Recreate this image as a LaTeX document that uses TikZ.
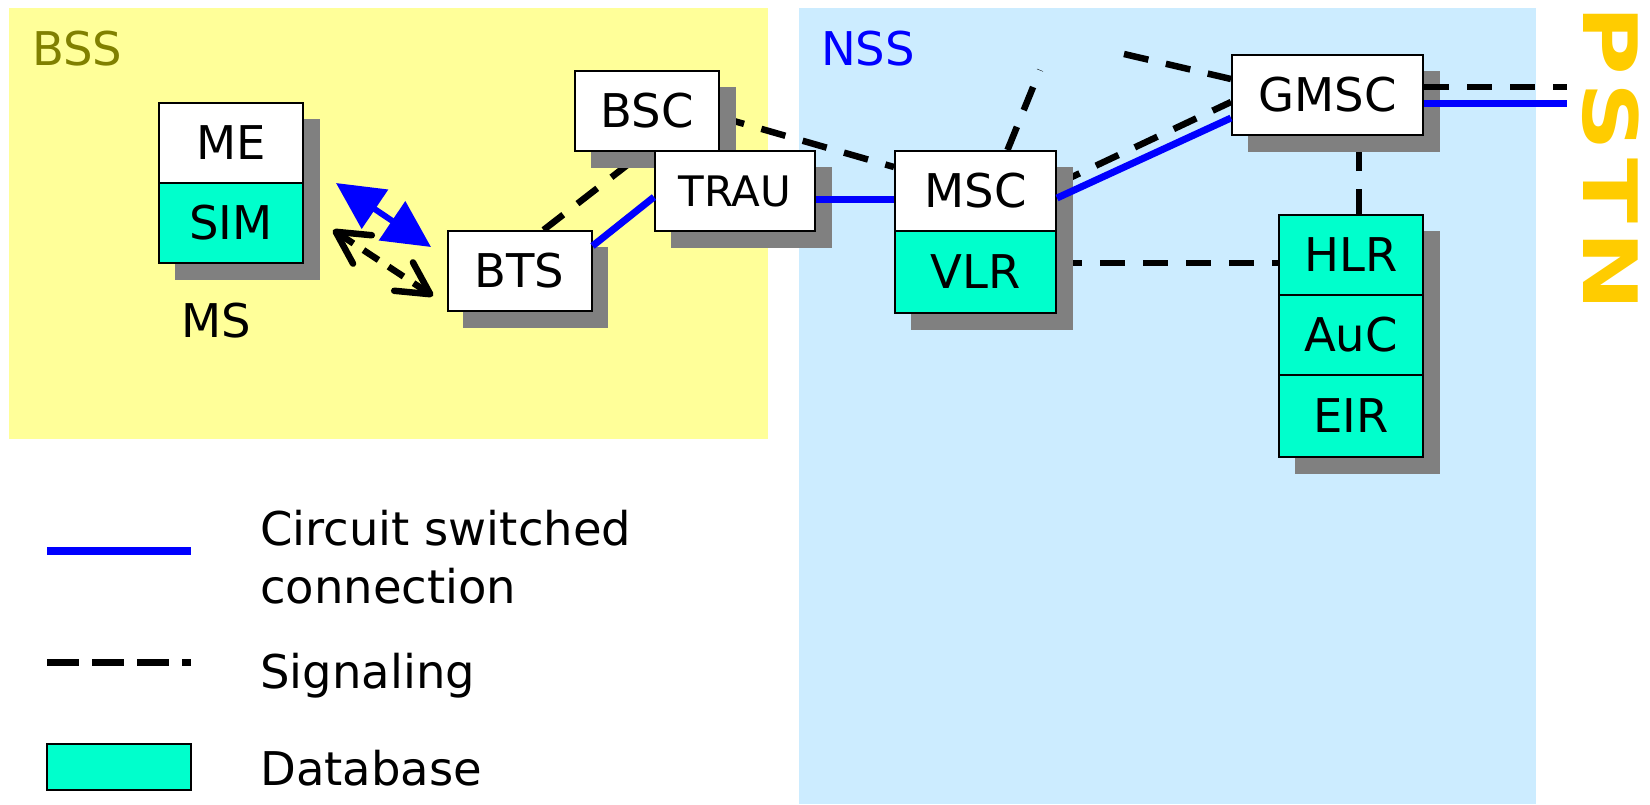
\documentclass[tikz,border=0pt]{standalone}
\usepackage{fontspec}
\setmainfont{DejaVu Sans}
\usetikzlibrary{arrows.meta,shadows}
\definecolor{bssyellow}{HTML}{FFFF99}
\definecolor{nssblue}{HTML}{CCECFF}
\definecolor{dbgreen}{HTML}{00FFCC}
\definecolor{bsslabel}{HTML}{808000}
\definecolor{pstngold}{HTML}{FFCC00}
\definecolor{shadowgray}{HTML}{808080}
\pgfdeclarelayer{back}
\pgfdeclarelayer{links}
\pgfsetlayers{back,links,main}
\begin{document}
\begin{tikzpicture}[x=1pt,y=-1pt,
  big/.style={font=\fontsize{46.5}{58}\selectfont},
  unit/.style={draw=black, line width=2pt, fill=white, minimum width=144pt,
    minimum height=80pt, inner sep=0pt, big,
    drop shadow={shadow xshift=16pt, shadow yshift=-16pt, fill=shadowgray,
      draw=shadowgray, line width=1pt, opacity=1}},
  db/.style={unit, fill=dbgreen},
  label/.style={big, anchor=base west, inner sep=0pt},
  circuit/.style={draw=blue, line width=7pt},
  signal/.style={draw=black, line width=6.5pt, dash pattern=on 25pt off 18pt},
]
\useasboundingbox (0,0) rectangle (1650,804);

% subsystem areas
\begin{pgfonlayer}{back}
  \fill[bssyellow] (9,8) rectangle (768,439);
  \fill[nssblue] (799,8) rectangle (1536,804);
\end{pgfonlayer}
\node[label, text=bsslabel] (BSS) at (32,65) {BSS};
\node[label, text=blue] (NSS) at (821,65) {NSS};

% mobile station
\node[unit] (ME) at (231,143) {ME};
\node[db] (SIM) at (231,223) {SIM};
\node[label] (MS) at (181,337) {MS};

% base station subsystem
\node[unit] (BSC) at (647,111) {BSC};
\node[unit, minimum width=160pt, font=\fontsize{42}{50}\selectfont] (TRAU) at (735,191) {TRAU};
\node[unit] (BTS) at (519.5,271) {BTS};

% network switching subsystem
\node[unit, minimum width=161pt] (MSC) at (975.5,191) {MSC};
\node[db, minimum width=161pt, minimum height=82pt] (VLR) at (975.5,272) {VLR};
\node[unit, minimum width=191pt] (GMSC) at (1327.5,95) {GMSC};
\node[db] (HLR) at (1351,255) {HLR};
\node[db] (AuC) at (1351,335) {AuC};
\node[db, minimum height=82pt] (EIR) at (1351,416) {EIR};

% public network
\node[rotate=-90, anchor=base west, inner sep=0pt, text=pstngold,
  font=\fontsize{75}{80}\selectfont\bfseries] (PSTN) at (1583,5)
  {\scalebox{1.27}[1]{P\kern6pt S\kern6pt T\kern6pt N}};

% free ends
\coordinate (up1) at (1040,70);
\coordinate (up2) at (1124,54);
\coordinate (pstnS) at (1567,87);
\coordinate (pstnC) at (1567,103);
\coordinate (radioA) at (336,183);
\coordinate (radioB) at (431,247);
\coordinate (sigA) at (333,230);
\coordinate (sigB) at (433,296);

% signaling links, beneath the boxes
\begin{pgfonlayer}{links}
  \draw[signal] ([xshift=24pt]BTS.north) -- ([xshift=-3pt]BSC.south);
  \draw[signal] ([yshift=-6pt]BSC.east) -- ([yshift=24pt]MSC.west);
  \draw[signal] ([xshift=32pt]MSC.north) -- (up1);
  \draw[signal] (up2) -- ([yshift=16pt]GMSC.west);
  \draw[signal] ([yshift=7pt]MSC.east) -- ([yshift=-7pt]GMSC.west);
  \draw[signal] ([yshift=9pt]VLR.east) -- ([yshift=9pt]VLR.east -| HLR.west);
  \draw[signal] ([xshift=8pt]HLR.north) -- ([xshift=8pt]HLR.north |- GMSC.south);
\end{pgfonlayer}
\draw[signal] ([yshift=8pt]GMSC.east) -- (pstnS);

% circuit switched connections
\draw[circuit] ([yshift=-16pt]BTS.north east) -- ([yshift=-6pt]TRAU.west);
\draw[circuit] ([yshift=-8pt]TRAU.east) -- ([yshift=-8pt]MSC.west);
\draw[circuit] ([yshift=-7pt]MSC.east) -- ([yshift=-23pt]GMSC.west);
\draw[circuit] ([yshift=-8pt]GMSC.east) -- (pstnC);

% air interface
\draw[blue, line width=6pt,
  {Triangle[length=47pt,width=46pt]}-{Triangle[length=47pt,width=46pt]}] (radioA) -- (radioB);
\draw[black, line width=6.5pt, dash pattern=on 18pt off 12pt,
  {Straight Barb[length=32pt,width=34pt,round]}-{Straight Barb[length=32pt,width=34pt,round]}]
  (sigA) -- (sigB);

% legend
\coordinate (lc1) at (47,551);
\coordinate (lc2) at (191,551);
\coordinate (ls1) at (47,662.5);
\coordinate (ls2) at (191,662.5);
\draw[draw=blue, line width=8pt] (lc1) -- (lc2);
\draw[draw=black, line width=7pt, dash pattern=on 32pt off 13pt] (ls1) -- (ls2);
\node[draw=black, line width=2pt, fill=dbgreen, minimum width=144pt, minimum height=46pt,
  inner sep=0pt] (legDB) at (119,767) {};
\node[big, anchor=north west, inner sep=0pt, align=left] (legC) at (260,510)
  {Circuit switched\\connection};
\node[label] (legS) at (260,688) {Signaling};
\node[label] (legD) at (260,785) {Database};
\end{tikzpicture}
\end{document}
